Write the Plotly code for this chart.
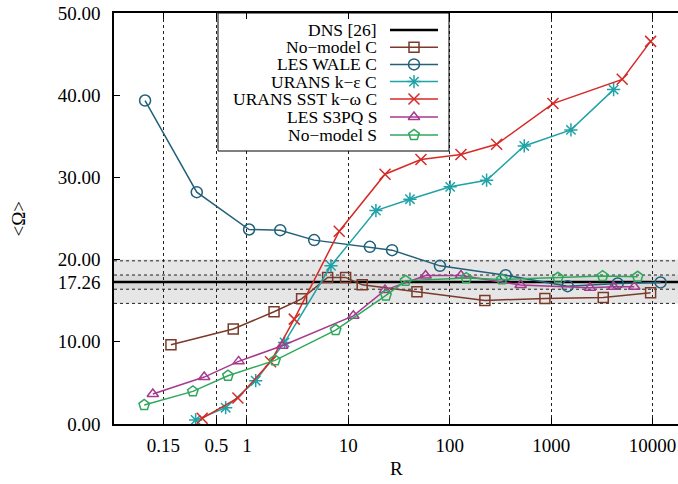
import plotly.graph_objects as go

# ---- data -------------------------------------------------------------
DNS_VALUE = 17.26

nomodel_c_R = [0.178, 0.733, 1.85, 3.46, 6.25, 9.4, 13.7, 47.5, 222, 868, 3265, 9570]
nomodel_c = [9.64, 11.55, 13.65, 15.23, 17.83, 17.83, 16.93, 16.09, 15.03, 15.28, 15.40, 15.96]

wale_c_R = [0.099, 0.32, 1.05, 2.13, 4.6, 16.3, 27, 80, 356, 1455, 4530, 12000]
wale_c = [39.35, 28.20, 23.66, 23.58, 22.37, 21.55, 21.15, 19.24, 18.10, 16.77, 17.10, 17.22]

ke_c_R = [0.312, 0.617, 1.22, 2.35, 6.74, 18.7, 40.5, 101, 231, 543, 1567, 4130]
ke_c = [0.49, 1.98, 5.27, 9.93, 19.25, 25.97, 27.35, 28.85, 29.66, 33.83, 35.78, 40.68]

sst_c_R = [0.362, 0.815, 1.71, 2.93, 8.13, 23, 52, 129, 290, 1042, 5020, 9570]
sst_c = [0.69, 3.16, 7.57, 12.76, 23.46, 30.39, 32.17, 32.78, 34.03, 38.98, 41.93, 46.55]

s3pq_s_R = [0.118, 0.379, 0.828, 2.23, 11.2, 23, 57.8, 129, 500, 2415, 4130, 6600]
s3pq_s = [3.65, 5.71, 7.62, 9.52, 13.16, 16.29, 18.07, 18.07, 16.90, 16.57, 16.69, 16.69]

nomodel_s_R = [0.097, 0.293, 0.65, 1.89, 7.5, 23.5, 36.7, 145.5, 327, 1167, 3220, 7130]
nomodel_s = [2.31, 3.97, 5.87, 7.74, 11.43, 15.64, 17.42, 17.75, 17.59, 17.79, 17.99, 17.91]

x_ticks = [0.15, 0.5, 1, 10, 100, 1000, 10000]
x_tick_text = ["0.15", "0.5", "1", "10", "100", "1000", "10000"]
y_ticks = [0, 10, DNS_VALUE, 20, 30, 40, 50]

# ---- styling ----------------------------------------------------------
FONT = "Liberation Serif"
X_RANGE_LOG = [-1.311, 4.251]
series = [
    ("No\u2212model C", nomodel_c_R, nomodel_c, "#7b3a2a", "square-open", 10),
    ("LES WALE C", wale_c_R, wale_c, "#23607a", "circle-open", 11),
    ("URANS k\u2212\u03b5 C", ke_c_R, ke_c, "#1fa3a7", "asterisk-open", 11),
    ("URANS SST k\u2212\u03c9 C", sst_c_R, sst_c, "#d62a26", "x-thin-open", 11),
    ("LES S3PQ S", s3pq_s_R, s3pq_s, "#a53a8f", "triangle-up-open", 10),
    ("No\u2212model S", nomodel_s_R, nomodel_s, "#2fa85c", "pentagon-open", 11),
]

fig = go.Figure()

# DNS reference across the full axis span
fig.add_trace(go.Scatter(
    x=[10 ** X_RANGE_LOG[0], 10 ** X_RANGE_LOG[1]], y=[DNS_VALUE, DNS_VALUE],
    mode="lines", line=dict(color="black", width=2.5), showlegend=False,
    hoverinfo="skip",
))

for name, xr, yv, col, sym, sz in series:
    fig.add_trace(go.Scatter(
        x=xr, y=yv, mode="lines+markers", name=name, showlegend=False,
        line=dict(color=col, width=1.5),
        marker=dict(symbol=sym, size=sz, color=col, line=dict(width=1.5, color=col)),
    ))

# tolerance band around the DNS reference value
band_outer = (DNS_VALUE * 0.85, DNS_VALUE * 1.15)
band_inner = (DNS_VALUE * 0.95, DNS_VALUE * 1.05)
shapes = [
    dict(type="rect", xref="paper", yref="y", x0=0, x1=1,
         y0=band_outer[0], y1=20.0, fillcolor="#e6e6e6",
         line=dict(width=0), layer="below"),
    dict(type="rect", xref="paper", yref="y", x0=0, x1=1,
         y0=band_inner[0], y1=band_inner[1], fillcolor="#dadada",
         line=dict(width=0), layer="below"),
]
for yv in (band_outer[0], band_inner[0], band_inner[1], band_outer[1]):
    shapes.append(dict(type="line", xref="paper", yref="y", x0=0, x1=1,
                       y0=yv, y1=yv, line=dict(color="#222", width=1, dash="dot"),
                       layer="below"))

# ---- legend (text right-aligned, sample on the right) -----------------
# overlay axes measured in pixels of the plotting area
PX_L, PX_R, PX_T, PX_B = 114, 678, 13, 424
bx0, bx1, by0, by1 = 218, 449, PX_T, 151
rows = [30, 47.2, 64.4, 81.6, 99, 117, 135]
text_right, samp0, samp1 = 378, 390, 438
samp_mid = (samp0 + samp1) / 2

fig.add_trace(go.Scatter(
    x=[bx0, bx1, bx1, bx0, bx0], y=[by0, by0, by1, by1, by0],
    xaxis="x2", yaxis="y2", mode="lines", fill="toself", fillcolor="white",
    line=dict(color="black", width=1), showlegend=False, hoverinfo="skip",
))

legend_entries = [("DNS [26]", "black", None, 0, 2.5)] + [
    (n, c, s, z, 1.5) for n, _, _, c, s, z in series
]
annotations = []
for (label, col, sym, sz, lw), ry in zip(legend_entries, rows):
    fig.add_trace(go.Scatter(
        x=[samp0, samp1], y=[ry, ry], xaxis="x2", yaxis="y2", mode="lines",
        line=dict(color=col, width=lw), showlegend=False, hoverinfo="skip",
    ))
    if sym:
        fig.add_trace(go.Scatter(
            x=[samp_mid], y=[ry], xaxis="x2", yaxis="y2", mode="markers",
            showlegend=False, hoverinfo="skip",
            marker=dict(symbol=sym, size=sz, color=col, line=dict(width=1.5, color=col)),
        ))
    annotations.append(dict(xref="x2", yref="y2", x=text_right, y=ry, text=label,
                            showarrow=False, xanchor="right", yanchor="middle",
                            height=16, borderpad=0,
                            font=dict(family=FONT, size=17.5, color="black")))

# axis titles
annotations.append(dict(xref="paper", yref="paper", x=0, y=0.5, xshift=-96,
                        text="&lt;\u03a9&gt;", textangle=-90, showarrow=False,
                        xanchor="center", yanchor="middle",
                        font=dict(family=FONT, size=19, color="black")))
annotations.append(dict(xref="paper", yref="paper", x=0.5, y=0, yshift=-44,
                        text="R", showarrow=False, xanchor="center", yanchor="middle",
                        font=dict(family=FONT, size=19, color="black")))

fig.update_layout(
    width=678, height=484,
    margin=dict(l=PX_L, r=0, t=PX_T, b=484 - PX_B, autoexpand=False),
    paper_bgcolor="white", plot_bgcolor="white",
    font=dict(family=FONT, size=19, color="black"),
    showlegend=False,
    shapes=shapes, annotations=annotations,
    xaxis=dict(
        type="log", range=X_RANGE_LOG,
        tickvals=x_ticks, ticktext=x_tick_text,
        showgrid=True, gridcolor="#222", gridwidth=1, griddash="dot",
        ticks="inside", ticklen=6, tickcolor="black", tickwidth=1,
        showline=True, linecolor="black", linewidth=1.5, mirror="ticks",
        zeroline=False, ticklabelstandoff=3,
        tickfont=dict(family=FONT, size=19, color="black"),
    ),
    yaxis=dict(
        range=[0, 50], tickvals=y_ticks,
        ticktext=[f"{v:.2f}" for v in y_ticks],
        showgrid=False, zeroline=False,
        ticks="inside", ticklen=6, tickcolor="black", tickwidth=1,
        showline=True, linecolor="black", linewidth=1.5,
        ticklabelstandoff=8,
        tickfont=dict(family=FONT, size=19, color="black"),
    ),
    xaxis2=dict(overlaying="x", range=[PX_L, PX_R], visible=False, fixedrange=True),
    yaxis2=dict(overlaying="y", range=[PX_B, PX_T], visible=False, fixedrange=True),
)

fig.write_html("out.html")
